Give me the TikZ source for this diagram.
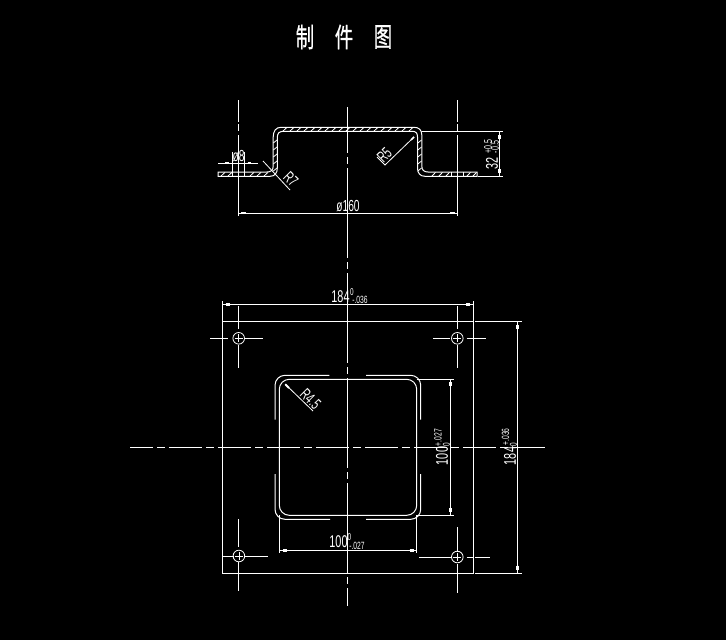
\documentclass[tikz,border=0pt]{standalone}
\usepackage{fontspec}
\setmainfont{Liberation Sans}
\newfontfamily\cjkfont[FakeBold=0.7]{Noto Sans CJK SC}
\newcommand{\cadt}[2]{\scalebox{0.64}[1]{\fontsize{#1}{#1}\selectfont #2}}
\newcommand{\cjkt}[1]{\scalebox{0.68}[1]{\fontsize{27}{27}\cjkfont #1}}
\tikzset{
  px/.style={x=1pt,y=-1pt},
  ln/.style={draw=white,line width=1pt},
  thinln/.style={draw=white,line width=0.8pt},
  blk/.style={draw=white,line width=2.8pt},
  lbl/.style={text=white,inner sep=0pt,outer sep=0pt},
  cvert/.style={ln,dash pattern=on 90pt off 4pt on 7pt off 4pt,dash phase=44pt},
  chorz/.style={ln,dash pattern=on 33pt off 4pt on 8pt off 4pt,dash phase=10pt}
}
\begin{document}
\begin{tikzpicture}[px]
\fill[black] (0,0) rectangle (726,640);
\useasboundingbox (0,0) rectangle (726,640);
% title
\node[lbl] (t1) at (305,37) {\cjkt{制}};
\node[lbl] (t2) at (344,37) {\cjkt{件}};
\node[lbl] (t3) at (383,37) {\cjkt{图}};
% centre lines
\draw[cvert] (347.3,107) -- (347.3,606);
\draw[chorz] (130,447.3) -- (547,447.3);
% profile
\draw[ln] (218,172) -- (267,172) .. controls (271,172) and (273.2,170) .. (273.2,166) -- (273.2,137) .. controls (273.2,131) and (276,127.3) .. (281,127.3) -- (414,127.3) .. controls (419,127.3) and (421.8,130) .. (421.8,135) -- (421.8,166) .. controls (421.8,170) and (424,172) .. (428,172) -- (477,172) -- (477,176.3) -- (425,176.3) .. controls (420,176.3) and (417.5,173) .. (417.5,168) -- (417.5,137) .. controls (417.5,133) and (416,131.3) .. (412,131.3) -- (284,131.3) .. controls (279,131.3) and (277.3,133) .. (277.3,138) -- (277.3,168) .. controls (277.3,173) and (275,176.3) .. (270,176.3) -- (218,176.3) -- cycle;
\foreach \x in {221,228,250,257,264} \draw[thinln] (\x,176) -- (\x+4,172.4);
\foreach \x in {432,439,446,467,473} \draw[thinln] (\x,176) -- (\x+3.5,172.4);
\foreach \x in {283,290,...,413} \draw[thinln] (\x,131) -- (\x+4,127.4);
\foreach \y in {140,147,...,168} {\draw[thinln] (273.3,\y+3) -- (277,\y);\draw[thinln] (417.8,\y+3) -- (421.5,\y);}
\draw[thinln] (232.7,172) -- (232.7,176.3) (244,172) -- (244,176.3) (451.7,172) -- (451.7,176.3) (463.3,172) -- (463.3,176.3);
% top view extension lines
\foreach \x in {238.3,457.3} \draw[ln] (\x,100) -- (\x,122) (\x,124) -- (\x,131) (\x,135) -- (\x,216);
\draw[ln] (238.3,213) -- (457.3,213);
\draw[blk] (241,213) -- (246,213);
\draw[blk] (450,213) -- (455,213);
\node[lbl] (d160) at (348,206.5) {\cadt{16}{ø160}};
% d8
\draw[ln] (218,163) -- (258,163);
\draw[blk] (225,163) -- (229,163);
\draw[blk] (247.5,163) -- (251,163);
\draw[thinln] (232.7,152) -- (232.7,172) (244,152) -- (244,172);
\node[lbl] (d8) at (238.5,156.5) {\cadt{16}{ø8}};
% R7
\draw[thinln] (263,161) -- (290,190);
\node[lbl,rotate=-45] (r7) at (291,179.5) {\cadt{16}{R7}};
% R5
\draw[thinln] (414,137) -- (385,165) -- (377,157);
\draw[blk,line width=1.6pt] (414,137) -- (411,140);
\node[lbl,rotate=45] (r5) at (384.5,155) {\cadt{16}{R5}};
% 32 dim
\draw[ln] (421.8,131.3) -- (502.7,131.3) (478,176.3) -- (502.7,176.3) (499.3,131.3) -- (499.3,176.3);
\draw[blk] (499.3,135) -- (499.3,139);
\draw[blk] (499.3,169) -- (499.3,173);
\node[lbl,rotate=90] (d32) at (492,163) {\cadt{17}{32}};
\node[lbl,rotate=90] (d32a) at (488,147) {\cadt{11}{+0.5}};
\node[lbl,rotate=90] (d32b) at (495,147) {\cadt{11}{-0.5}};
% plate
\draw[ln] (222.3,301) -- (222.3,573.3) -- (473.3,573.3) -- (473.3,301);
\draw[ln] (222.3,321.3) -- (473.3,321.3) (475,321.3) -- (521.7,321.3) (475,573.3) -- (521.7,573.3);
\draw[ln] (222.3,304.3) -- (473.3,304.3);
\draw[blk] (225.5,304.3) -- (229.5,304.3);
\draw[blk] (466,304.3) -- (470,304.3);
\node[lbl] (d184) at (340.5,296.5) {\cadt{17}{184}};
\node[lbl] (d184a) at (352,292.5) {\cadt{10}{0}};
\node[lbl] (d184b) at (360,300) {\cadt{10.5}{-.036}};
\draw[ln] (517.3,321.3) -- (517.3,573.3);
\draw[blk] (517.3,325) -- (517.3,329);
\draw[blk] (517.3,565.5) -- (517.3,569.5);
\node[lbl,rotate=90] (v184) at (510,456) {\cadt{17}{184}};
\node[lbl,rotate=90] (v184a) at (505.5,437) {\cadt{10.5}{+.036}};
\node[lbl,rotate=90] (v184b) at (513.5,444.5) {\cadt{10}{0}};
% holes
\foreach \cx/\cy in {238.7/338.3,457.3/338.3,238.9/556,457.3/557} {
  \draw[thinln] (\cx,\cy) circle (5.8);
  \draw[thinln] (\cx-4,\cy) -- (\cx+4,\cy) (\cx,\cy-4) -- (\cx,\cy+4);
}
\draw[ln] (210,338.3) -- (227.7,338.3) (245,338.3) -- (262.7,338.3) (238.7,306) -- (238.7,328.7) (238.7,344.5) -- (238.7,367.7);
\draw[ln] (433,338.3) -- (450,338.3) (466.7,338.3) -- (486,338.3) (457.3,306) -- (457.3,328.7) (457.3,345) -- (457.3,368);
\draw[ln] (222.3,556) -- (234,556) (245,556) -- (267.7,556) (238.9,519) -- (238.9,546.7) (238.9,561.7) -- (238.9,590.7);
\draw[ln] (419,557) -- (451.7,557) (466.7,557) -- (473,557) (475,557) -- (490,557) (457.3,527) -- (457.3,551.7) (457.3,564) -- (457.3,592.7);
% square opening
\draw[ln,rounded corners=10pt] (279.3,379.3) rectangle (416.7,515.3);
\draw[ln,rounded corners=10pt] (275,419.7) -- (275,375.3) -- (329.3,375.3);
\draw[ln,rounded corners=10pt] (366,375.3) -- (420.7,375.3) -- (420.7,419.7);
\draw[ln,rounded corners=10pt] (275,474) -- (275,519.3) -- (330,519.3);
\draw[ln,rounded corners=10pt] (366,519.3) -- (420.7,519.3) -- (420.7,474);
% R4.5
\draw[thinln] (285,384) -- (313,411);
\draw[blk,line width=1.8pt] (285.5,384.5) -- (289,388);
\node[lbl,rotate=-45] (r45) at (310.5,399.5) {\cadt{16}{R4.5}};
% 100 dims
\draw[ln] (416.7,379.3) -- (453.7,379.3) (416.7,515.3) -- (454,515.3) (450.3,379.3) -- (450.3,515.3);
\draw[blk] (450.3,382) -- (450.3,386);
\draw[blk] (450.3,508) -- (450.3,512);
\node[lbl,rotate=90] (v100) at (442,456) {\cadt{17}{100}};
\node[lbl,rotate=90] (v100a) at (438,437.5) {\cadt{10.5}{+.027}};
\node[lbl,rotate=90] (v100b) at (446.5,445) {\cadt{10}{0}};
\draw[ln] (279.3,515.3) -- (279.3,553) (416.7,515.3) -- (416.7,553) (279.3,550.3) -- (416.7,550.3);
\draw[blk] (283,550.3) -- (287,550.3);
\draw[blk] (409.5,550.3) -- (413.5,550.3);
\node[lbl] (h100) at (338.5,542) {\cadt{17}{100}};
\node[lbl] (h100a) at (349.5,537.5) {\cadt{10}{0}};
\node[lbl] (h100b) at (357,546) {\cadt{10.5}{-.027}};
\end{tikzpicture}
\end{document}
